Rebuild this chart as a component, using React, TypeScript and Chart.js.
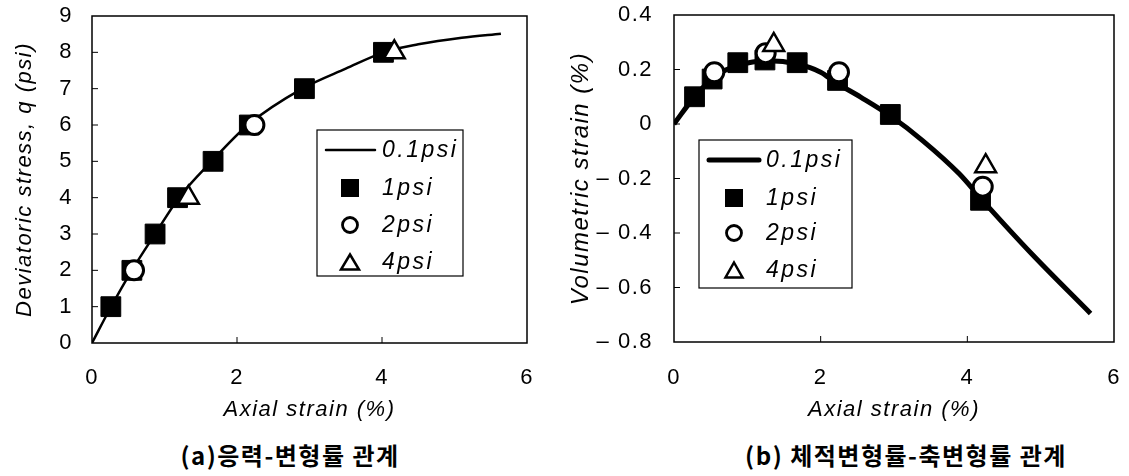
import React, { useEffect, useRef } from "react";
import { Chart, registerables } from "chart.js";

Chart.register(...registerables);

const SANS = '"Liberation Sans", Arial, Helvetica, sans-serif';

// ---------- (a) stress-strain ----------
const aXTicks = [0, 2, 4, 6];
const aYTicks = [0, 1, 2, 3, 4, 5, 6, 7, 8, 9];
const aLineX = [0, 0.25, 0.55, 0.87, 1.2, 1.65, 2.15, 2.9, 3.5, 4.05, 4.5, 5.1, 5.64];
const aLineY = [0, 0.95, 2.0, 3.0, 4.0, 5.0, 6.0, 7.0, 7.55, 8.02, 8.22, 8.4, 8.51];
const a1psiX = [0.26, 0.55, 0.87, 1.18, 1.67, 2.17, 2.93, 4.02];
const a1psiY = [1, 2, 3, 4, 5, 6, 7, 8];
const a2psiX = [0.58, 2.24];
const a2psiY = [2, 6];
const a4psiX = [1.33, 4.17];
const a4psiY = [4, 8];

// ---------- (b) volumetric strain ----------
const bXTicks = [0, 2, 4, 6];
const bYTicks = [0.4, 0.2, 0, -0.2, -0.4, -0.6, -0.8];
const bLineX = [0, 0.28, 0.57, 0.86, 1.29, 1.68, 2.0, 2.2, 2.55, 2.95, 3.39, 3.89, 4.21, 4.88, 5.68];
const bLineY = [0, 0.1, 0.177, 0.214, 0.232, 0.22, 0.19, 0.153, 0.098, 0.03, -0.061, -0.183, -0.281, -0.477, -0.695];
const b1psiX = [0.28, 0.52, 0.87, 1.24, 1.68, 2.23, 2.95, 4.18];
const b1psiY = [0.1, 0.165, 0.225, 0.235, 0.225, 0.16, 0.035, -0.28];
const b2psiX = [0.55, 1.25, 2.25, 4.21];
const b2psiY = [0.19, 0.26, 0.19, -0.23];
const b4psiX = [1.36, 4.25];
const b4psiY = [0.29, -0.155];

const seriesLabels = ["0.1psi", "1psi", "2psi", "4psi"];
const xTitle = "Axial strain (%)";
const aYTitle = "Deviatoric stress, q (psi)";
const bYTitle = "Volumetric strain (%)";
const captionA = "(a)응력-변형률 관계";
const captionB = "(b) 체적변형률-축변형률 관계";

const pts = (xs: number[], ys: number[]) => xs.map((x, i) => ({ x, y: ys[i] }));

const spacingPlugin = {
  id: "spacing",
  beforeDraw(chart: any, _a: any, o: any) {
    (chart.ctx as any).letterSpacing = o.value || "0px";
  },
  afterDraw(chart: any) {
    (chart.ctx as any).letterSpacing = "0px";
  },
};

const framePlugin = {
  id: "frameTicks",
  beforeDatasetsDraw(chart: any) {
    const { ctx, chartArea: a, scales } = chart;
    ctx.save();
    (ctx as any).letterSpacing = "0px";
    ctx.strokeStyle = "#000";
    ctx.lineWidth = 1.5;
    ctx.strokeRect(a.left, a.top, a.right - a.left, a.bottom - a.top);
    ctx.lineWidth = 1;
    const L = 6;
    ctx.beginPath();
    scales.x.ticks.forEach((t: any) => {
      const px = scales.x.getPixelForValue(t.value);
      if (px > a.left + 2 && px < a.right - 2) {
        ctx.moveTo(px, a.bottom);
        ctx.lineTo(px, a.bottom - L);
      }
    });
    scales.y.ticks.forEach((t: any) => {
      const py = scales.y.getPixelForValue(t.value);
      if (py > a.top + 2 && py < a.bottom - 2) {
        ctx.moveTo(a.left, py);
        ctx.lineTo(a.left + L, py);
      }
    });
    ctx.stroke();
    ctx.restore();
  },
};

const legendPlugin = {
  id: "boxLegend",
  afterDatasetsDraw(chart: any, _a: any, o: any) {
    const ctx = chart.ctx;
    ctx.save();
    ctx.fillStyle = "#fff";
    ctx.fillRect(o.x, o.y, o.w, o.h);
    ctx.strokeStyle = "#000";
    ctx.lineWidth = 1.2;
    ctx.strokeRect(o.x, o.y, o.w, o.h);
    const ds = chart.data.datasets;
    ds.forEach((d: any, i: number) => {
      const y = o.rows[i];
      const cx = o.symX;
      ctx.strokeStyle = "#000";
      ctx.fillStyle = "#000";
      if (d.showLine) {
        ctx.lineWidth = d.borderWidth;
        ctx.lineCap = "round";
        ctx.beginPath();
        ctx.moveTo(o.lineX0, y);
        ctx.lineTo(o.lineX1, y);
        ctx.stroke();
      } else if (d.pointStyle === "rect") {
        const s = o.sq;
        ctx.fillRect(cx - s / 2, y - s / 2, s, s);
      } else if (d.pointStyle === "circle") {
        ctx.lineWidth = 2.8;
        ctx.fillStyle = "#fff";
        ctx.beginPath();
        ctx.arc(cx, y, o.cr, 0, Math.PI * 2);
        ctx.fill();
        ctx.stroke();
      } else if (d.pointStyle === "triangle") {
        ctx.lineWidth = 2.5;
        ctx.lineJoin = "miter";
        ctx.fillStyle = "#fff";
        const w = o.tw, h = o.th;
        ctx.beginPath();
        ctx.moveTo(cx, y - h / 2);
        ctx.lineTo(cx + w / 2, y + h / 2);
        ctx.lineTo(cx - w / 2, y + h / 2);
        ctx.closePath();
        ctx.fill();
        ctx.stroke();
      }
      ctx.fillStyle = "#000";
      ctx.font = o.font;
      (ctx as any).letterSpacing = o.spacing;
      ctx.textAlign = "left";
      ctx.textBaseline = "middle";
      ctx.fillText(d.label, o.textX, y + 1);
    });
    ctx.restore();
  },
};

function makeDatasets(lx: number[], ly: number[], s1x: number[], s1y: number[], s2x: number[], s2y: number[], s4x: number[], s4y: number[], lineW: number) {
  return [
    {
      label: seriesLabels[0],
      data: pts(lx, ly),
      showLine: true,
      borderColor: "#000",
      borderWidth: lineW,
      pointRadius: 0,
      cubicInterpolationMode: "monotone",
      fill: false,
      order: 4,
    },
    {
      label: seriesLabels[1],
      data: pts(s1x, s1y),
      showLine: false,
      pointStyle: "rect",
      pointRadius: 14,
      backgroundColor: "#000",
      borderColor: "#000",
      borderWidth: 1,
      order: 3,
    },
    {
      label: seriesLabels[2],
      data: pts(s2x, s2y),
      showLine: false,
      pointStyle: "circle",
      pointRadius: 9.5,
      backgroundColor: "#fff",
      borderColor: "#000",
      borderWidth: 3,
      order: 2,
    },
    {
      label: seriesLabels[3],
      data: pts(s4x, s4y),
      showLine: false,
      pointStyle: "triangle",
      pointRadius: 12,
      backgroundColor: "#fff",
      borderColor: "#000",
      borderWidth: 2.5,
      order: 1,
    },
  ];
}

type Cfg = {
  datasets: any[];
  xTicks: number[];
  yTicks: number[];
  yTitle: string;
  yTitleSize: number;
  yTitlePad: number;
  yWidth: number;
  yTickPad: number;
  xHeight: number;
  xTickPad: number;
  pad: any;
  legend: any;
  yFmt: (v: number) => string;
};

function makeConfig(c: Cfg): any {
  const tickFont = { family: SANS, size: 22 };
  return {
    type: "scatter",
    data: { datasets: c.datasets },
    plugins: [spacingPlugin, framePlugin, legendPlugin],
    options: {
      responsive: false,
      animation: false,
      events: [],
      layout: { padding: c.pad },
      plugins: {
        legend: { display: false },
        tooltip: { enabled: false },
        spacing: { value: "1.5px" },
        boxLegend: c.legend,
      },
      scales: {
        x: {
          type: "linear",
          min: c.xTicks[0],
          max: c.xTicks[c.xTicks.length - 1],
          afterBuildTicks: (s: any) => {
            s.ticks = c.xTicks.map((v) => ({ value: v }));
          },
          afterFit: (s: any) => {
            s.height = c.xHeight;
            s.paddingLeft = 0;
            s.paddingRight = 0;
          },
          grid: { display: false, drawTicks: false },
          border: { display: false },
          ticks: {
            autoSkip: false,
            maxRotation: 0,
            padding: c.xTickPad,
            color: "#000",
            font: tickFont,
            callback: (v: any) => String(v),
          },
          title: {
            display: true,
            text: xTitle,
            color: "#000",
            font: { family: SANS, size: 22, style: "italic", lineHeight: 1.2 },
            padding: { top: 0, bottom: 7 },
          },
        },
        y: {
          type: "linear",
          min: Math.min(...c.yTicks),
          max: Math.max(...c.yTicks),
          afterBuildTicks: (s: any) => {
            s.ticks = [...c.yTicks].sort((p, q) => p - q).map((v) => ({ value: v }));
          },
          afterFit: (s: any) => {
            s.width = c.yWidth;
            s.paddingTop = 0;
            s.paddingBottom = 0;
          },
          grid: { display: false, drawTicks: false },
          border: { display: false },
          ticks: {
            autoSkip: false,
            padding: c.yTickPad,
            color: "#000",
            font: tickFont,
            callback: (v: any) => c.yFmt(Number(v)),
          },
          title: {
            display: true,
            text: c.yTitle,
            color: "#000",
            font: { family: SANS, size: c.yTitleSize, style: "italic", lineHeight: 1.2 },
            padding: { top: c.yTitlePad, bottom: 0 },
          },
        },
      },
    },
  };
}

function ChartBox({ cfg, left, width, height }: { cfg: () => any; left: number; width: number; height: number }) {
  const ref = useRef<HTMLCanvasElement>(null);
  useEffect(() => {
    const ch = new Chart(ref.current as HTMLCanvasElement, cfg());
    return () => ch.destroy();
  }, []);
  return (
    <div style={{ position: "absolute", left, top: 0, width, height }}>
      <canvas ref={ref} width={width} height={height} style={{ display: "block" }} />
    </div>
  );
}

const cfgA = () =>
  makeConfig({
    datasets: makeDatasets(aLineX, aLineY, a1psiX, a1psiY, a2psiX, a2psiY, a4psiX, a4psiY, 2.5),
    xTicks: aXTicks,
    yTicks: aYTicks,
    yTitle: aYTitle,
    yTitleSize: 22,
    yTitlePad: 12,
    yWidth: 92,
    yTickPad: 19,
    xHeight: 87,
    xTickPad: 22,
    pad: { left: 0, top: 16, right: 33, bottom: 0 },
    legend: {
      x: 317, y: 130, w: 146, h: 146,
      rows: [150, 188, 225, 262],
      symX: 350, lineX0: 326, lineX1: 375, textX: 382,
      sq: 18, cr: 7.5, tw: 18, th: 15,
      font: `italic 23px ${SANS}`, spacing: "2.5px",
    },
    yFmt: (v) => String(v),
  });

const cfgB = () =>
  makeConfig({
    datasets: makeDatasets(bLineX, bLineY, b1psiX, b1psiY, b2psiX, b2psiY, b4psiX, b4psiY, 5),
    xTicks: bXTicks,
    yTicks: bYTicks,
    yTitle: bYTitle,
    yTitleSize: 24,
    yTitlePad: 7,
    yWidth: 114,
    yTickPad: 21,
    xHeight: 88,
    xTickPad: 23,
    pad: { left: 0, top: 14, right: 14, bottom: 0 },
    legend: {
      x: 139, y: 140, w: 153, h: 148,
      rows: [160, 198, 233, 270],
      symX: 174, lineX0: 149, lineX1: 199, textX: 206,
      sq: 18, cr: 7.5, tw: 17, th: 15,
      font: `italic 23px ${SANS}`, spacing: "2.5px",
    },
    yFmt: (v) => (v === 0 ? "0" : v < 0 ? "\u2013 " + Math.abs(v).toFixed(1) : v.toFixed(1)),
  });

const captionStyle: React.CSSProperties = {
  position: "absolute",
  top: 440,
  width: 420,
  height: 30,
  lineHeight: "30px",
  textAlign: "center",
  fontFamily: '"Noto Sans CJK KR", sans-serif',
  fontWeight: 700,
  fontSize: 24,
  letterSpacing: "1.5px",
  color: "#000",
  whiteSpace: "nowrap",
};

export default function App() {
  return (
    <div style={{ position: "absolute", left: 0, top: 0, width: 1129, height: 476, background: "#fff", overflow: "hidden" }}>
      <ChartBox cfg={cfgA} left={0} width={560} height={430} />
      <ChartBox cfg={cfgB} left={560} width={569} height={430} />
      <div style={{ ...captionStyle, left: 290 - 210 }}>{captionA}</div>
      <div style={{ ...captionStyle, left: 906 - 210 }}>{captionB}</div>
    </div>
  );
}
